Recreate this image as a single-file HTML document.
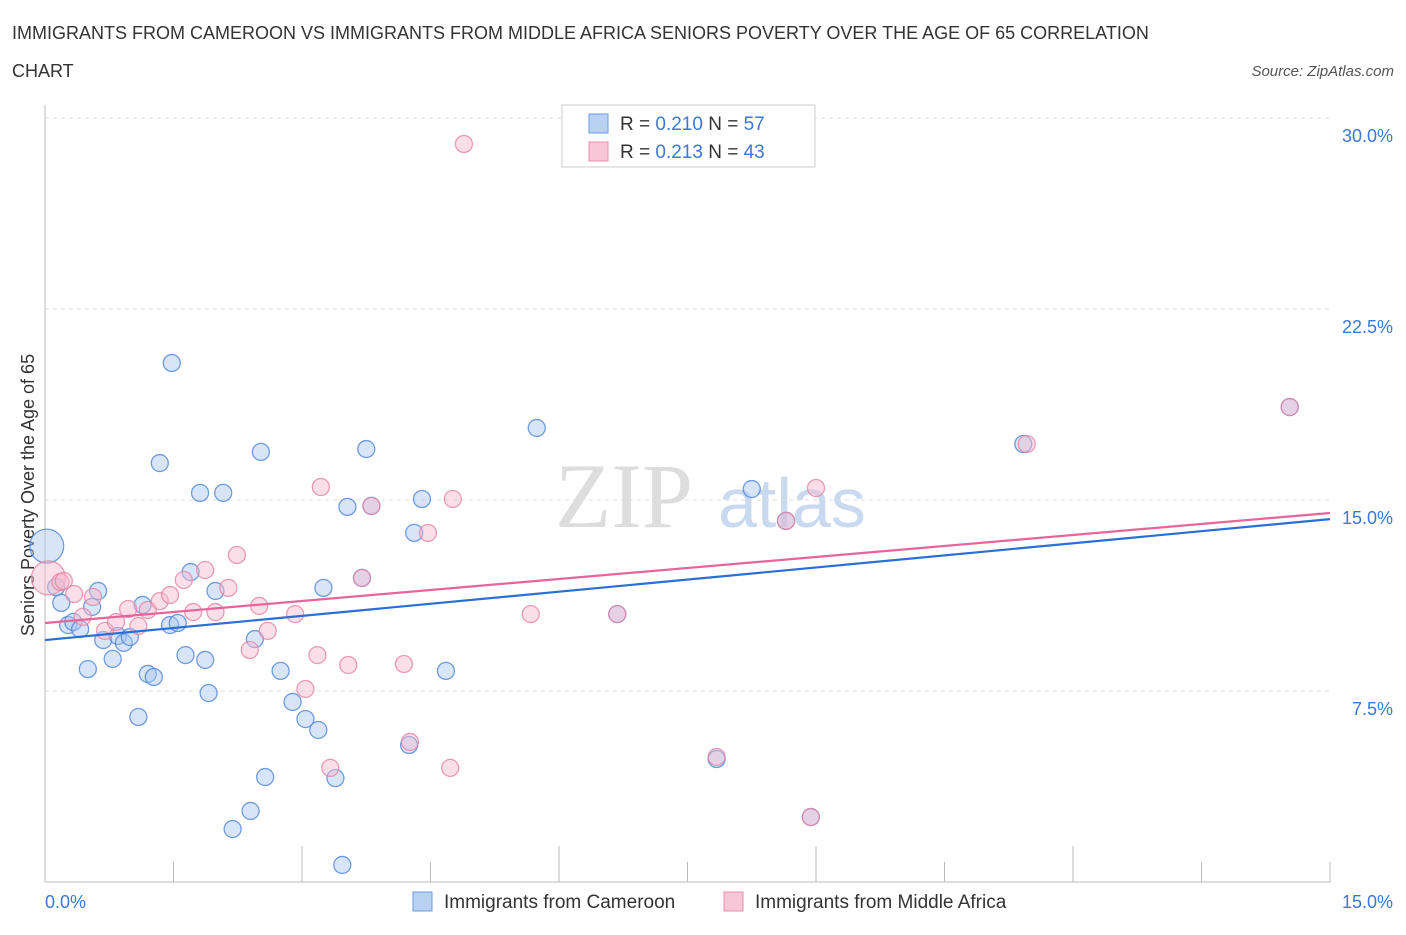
<!DOCTYPE html>
<html><head><meta charset="utf-8"><style>
body{margin:0;background:#fff;font-family:"Liberation Sans",sans-serif;}
</style></head><body>
<svg width="1406" height="930" xmlns="http://www.w3.org/2000/svg" font-family="Liberation Sans, sans-serif">
<text x="12" y="39" font-size="18" fill="#333">IMMIGRANTS FROM CAMEROON VS IMMIGRANTS FROM MIDDLE AFRICA SENIORS POVERTY OVER THE AGE OF 65 CORRELATION</text>
<text x="12" y="77" font-size="18" fill="#333">CHART</text>
<text x="1394" y="76" font-size="15" fill="#555" text-anchor="end" font-style="italic">Source: ZipAtlas.com</text>
<text x="555" y="527" font-size="92" fill="#ddd" font-family="Liberation Serif, serif">ZIP</text>
<text x="718" y="527" font-size="70" fill="#c9daf0">atlas</text>
<g id="grid"></g>
<line x1="45" y1="105" x2="45" y2="882" stroke="#bbb"/>
<line x1="45" y1="882" x2="1330" y2="882" stroke="#bbb"/>
<g id="xt"></g>
<text transform="translate(34,495) rotate(-90)" font-size="18" fill="#333" text-anchor="middle">Seniors Poverty Over the Age of 65</text>
<text x="45" y="908" font-size="18" fill="#3b78d8">0.0%</text>
<text x="1393" y="908" font-size="18" fill="#3b78d8" text-anchor="end">15.0%</text>
<g id="pts"></g>
<g id="lines"></g>
<g>
<rect x="562" y="105" width="253" height="62" fill="#fff" stroke="#ccc"/>
<rect x="589" y="114" width="19" height="19" fill="#b9d2f4" stroke="#6d9be0"/>
<rect x="589" y="142" width="19" height="19" fill="#f8c6d6" stroke="#e88fb0"/>
<text x="620" y="130" font-size="19" fill="#333">R = <tspan fill="#3b78d8">0.210</tspan>   N = <tspan fill="#3b78d8">57</tspan></text>
<text x="620" y="158" font-size="19" fill="#333">R =  <tspan fill="#3b78d8">0.213</tspan>   N = <tspan fill="#3b78d8">43</tspan></text>
</g>
<g>
<rect x="413" y="892" width="19" height="19" fill="#b9d2f4" stroke="#6d9be0"/>
<text x="444" y="908" font-size="19" fill="#333">Immigrants from Cameroon</text>
<rect x="724" y="892" width="19" height="19" fill="#f8c6d6" stroke="#e88fb0"/>
<text x="755" y="908" font-size="19" fill="#333">Immigrants from Middle Africa</text>
</g>
</svg>
<script>
const yTicks=[7.5,15,22.5,30];
const yTickLabels=["7.5%","15.0%","22.5%","30.0%"];
const blueX=[0.02,0.13,0.19,0.27,0.33,0.41,0.55,0.62,0.5,0.68,0.79,0.85,0.92,0.99,1.09,1.14,1.2,1.27,1.34,1.46,1.48,1.55,1.64,1.7,1.81,1.87,1.91,1.99,2.08,2.19,2.4,2.45,2.52,2.57,2.75,2.89,3.04,3.19,3.25,3.39,3.47,3.53,3.7,3.75,3.81,4.25,4.31,4.4,4.68,5.74,6.68,7.84,8.25,8.65,8.94,11.42,14.53];
const blueY=[13.19,11.58,10.96,10.09,10.21,9.93,10.8,11.43,8.36,9.5,8.76,9.66,9.39,9.62,6.48,10.88,8.17,8.05,16.45,10.09,20.38,10.17,8.91,12.17,15.28,8.72,7.42,11.43,15.28,2.08,2.79,9.54,16.89,4.12,8.29,7.07,6.4,5.97,11.55,4.08,0.67,14.73,11.94,17.0,14.77,5.38,13.71,15.04,8.29,17.83,10.52,4.83,15.43,14.18,2.55,17.2,18.65];
const pinkX=[0.04,0.18,0.22,0.34,0.44,0.56,0.7,0.83,0.97,1.09,1.2,1.34,1.46,1.62,1.73,1.87,1.99,2.14,2.24,2.39,2.5,2.6,2.92,3.04,3.18,3.22,3.33,3.54,3.7,3.81,4.19,4.26,4.47,4.73,4.76,4.89,5.67,6.68,7.84,8.65,8.94,9.0,11.46,14.53];
const pinkY=[11.94,11.78,11.82,11.31,10.41,11.19,9.86,10.21,10.72,10.05,10.68,11.03,11.27,11.86,10.6,12.25,10.6,11.55,12.84,9.11,10.84,9.86,10.52,7.58,8.91,15.51,4.48,8.52,11.94,14.77,8.56,5.5,13.71,4.48,15.04,28.98,10.52,10.52,4.91,14.18,2.55,15.47,17.2,18.65];
const blueTrend=[9.5,14.25];
const pinkTrend=[10.17,14.49];
const xTicks=[0,1.5,3,4.5,6,7.5,9,10.5,12,13.5,15];
const NS="http://www.w3.org/2000/svg";
const sx=v=>45+v/15*1285, sy=v=>882-v/7.5*191;
function mk(t,a,p){const e=document.createElementNS(NS,t);for(const k in a)e.setAttribute(k,a[k]);document.getElementById(p).appendChild(e);return e;}
yTicks.forEach((v,i)=>{
 const l=mk('line',{x1:45,x2:1330,y1:sy(v),y2:sy(v),stroke:'#ddd','stroke-dasharray':'4,4'},'grid');
 
 
 const t=mk('text',{x:1393,y:sy(v)+24,'font-size':18,fill:'#3b78d8','text-anchor':'end'},'grid');
 t.textContent=yTickLabels[i];
 
 
});
xTicks.forEach(v=>{
 const l=mk('line',{x1:sx(v),x2:sx(v),y1:882,y2:(v%3===0&&v>0&&v<15)?846:862,stroke:'#bbb'},'xt');
 
 
});
function pts(X,Y,fill,stroke,name){X.forEach((x,i)=>{
 const big=(x<0.1);
 const c=mk('circle',{cx:sx(x),cy:sy(Y[i]),r:big?17:8.5,fill:fill,'fill-opacity':0.45,stroke:stroke,'stroke-width':1.3,'stroke-opacity':0.8},'pts');
 
 
});}
pts(blueX,blueY,'#a9c6ef','#4f86d8','cameroon-point');
pts(pinkX,pinkY,'#f6b9cd','#e585a8','middle-africa-point');
const b=mk('line',{x1:sx(0),y1:sy(blueTrend[0]),x2:sx(15),y2:sy(blueTrend[1]),stroke:'#2b6fd6','stroke-width':2.2},'lines');


const p=mk('line',{x1:sx(0),y1:sy(pinkTrend[0]),x2:sx(15),y2:sy(pinkTrend[1]),stroke:'#e8659a','stroke-width':2.2},'lines');


</script>
</body></html>
